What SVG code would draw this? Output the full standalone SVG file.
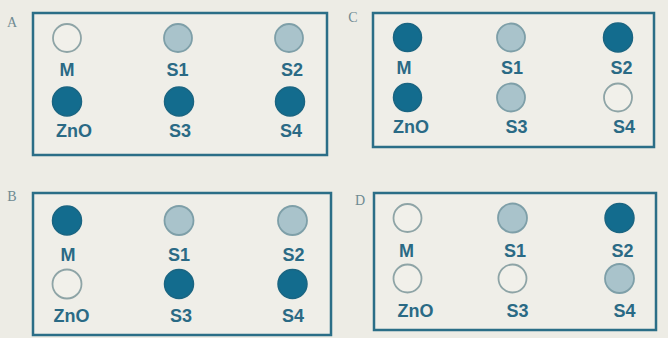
<svg xmlns="http://www.w3.org/2000/svg" width="668" height="338" viewBox="0 0 668 338">
<style>
.bg{fill:#edece5}
.box{fill:#efeee8;stroke:#2b6e87;stroke-width:2.5}
.d{fill:#136c8e;stroke:#1a6582;stroke-width:1.5}
.l{fill:#a9c3cb;stroke:#7e9fa8;stroke-width:1.8}
.e{fill:#f1f0ea;stroke:#8ea4a6;stroke-width:1.8}
.t{font-family:"Liberation Sans",Arial,sans-serif;font-size:18px;font-weight:bold;fill:#2a6a85;text-anchor:middle}
.p{font-family:"Liberation Serif","Times New Roman",serif;font-size:14px;fill:#6f8a92;text-anchor:middle}
</style>
<rect class="bg" x="0" y="0" width="668" height="338"/>
<g id="panelA">
<text class="p" x="12" y="27">A</text>
<rect class="box" x="33" y="13" width="294" height="142"/>
<circle class="e" cx="67" cy="38" r="14"/><text class="t" x="67" y="76">M</text>
<circle class="l" cx="178" cy="38" r="14"/><text class="t" x="177.5" y="76">S1</text>
<circle class="l" cx="289" cy="38" r="14"/><text class="t" x="292" y="76">S2</text>
<circle class="d" cx="67" cy="101.5" r="14.5"/><text class="t" x="74" y="137">ZnO</text>
<circle class="d" cx="179" cy="101.5" r="14.5"/><text class="t" x="180" y="137">S3</text>
<circle class="d" cx="290" cy="101.5" r="14.5"/><text class="t" x="291" y="137">S4</text>
</g>
<g id="panelC">
<text class="p" x="353" y="22">C</text>
<rect class="box" x="373" y="13" width="281" height="134"/>
<circle class="d" cx="407.5" cy="37.5" r="14"/><text class="t" x="404" y="74">M</text>
<circle class="l" cx="511" cy="37.5" r="14"/><text class="t" x="512" y="74">S1</text>
<circle class="d" cx="618" cy="37.5" r="14.5"/><text class="t" x="621.5" y="74">S2</text>
<circle class="d" cx="407.5" cy="97.5" r="14"/><text class="t" x="411" y="133">ZnO</text>
<circle class="l" cx="511" cy="97.5" r="14"/><text class="t" x="516.5" y="133">S3</text>
<circle class="e" cx="618" cy="97.5" r="14"/><text class="t" x="624" y="133">S4</text>
</g>
<g id="panelB">
<text class="p" x="12" y="201">B</text>
<rect class="box" x="33" y="193" width="298" height="142"/>
<circle class="d" cx="67" cy="220.5" r="14.5"/><text class="t" x="68" y="261">M</text>
<circle class="l" cx="179" cy="220.5" r="14.5"/><text class="t" x="179" y="261">S1</text>
<circle class="l" cx="292.5" cy="220.5" r="14.5"/><text class="t" x="293.5" y="261">S2</text>
<circle class="e" cx="67" cy="284" r="14.5"/><text class="t" x="71.5" y="322">ZnO</text>
<circle class="d" cx="179" cy="284" r="14.5"/><text class="t" x="181" y="322">S3</text>
<circle class="d" cx="292.5" cy="284" r="14.5"/><text class="t" x="293" y="322">S4</text>
</g>
<g id="panelD">
<text class="p" x="360" y="205">D</text>
<rect class="box" x="374" y="193" width="282" height="137"/>
<circle class="e" cx="407.5" cy="218" r="14"/><text class="t" x="406.5" y="257">M</text>
<circle class="l" cx="512.5" cy="218" r="14.5"/><text class="t" x="515" y="257">S1</text>
<circle class="d" cx="619.5" cy="218" r="14.5"/><text class="t" x="622.5" y="257">S2</text>
<circle class="e" cx="407.5" cy="278.5" r="14"/><text class="t" x="415.5" y="317">ZnO</text>
<circle class="e" cx="512.5" cy="278.5" r="14"/><text class="t" x="517.5" y="317">S3</text>
<circle class="l" cx="619.5" cy="278.5" r="14.5"/><text class="t" x="624.5" y="317">S4</text>
</g>
<g id="connectors"/>
</svg>
